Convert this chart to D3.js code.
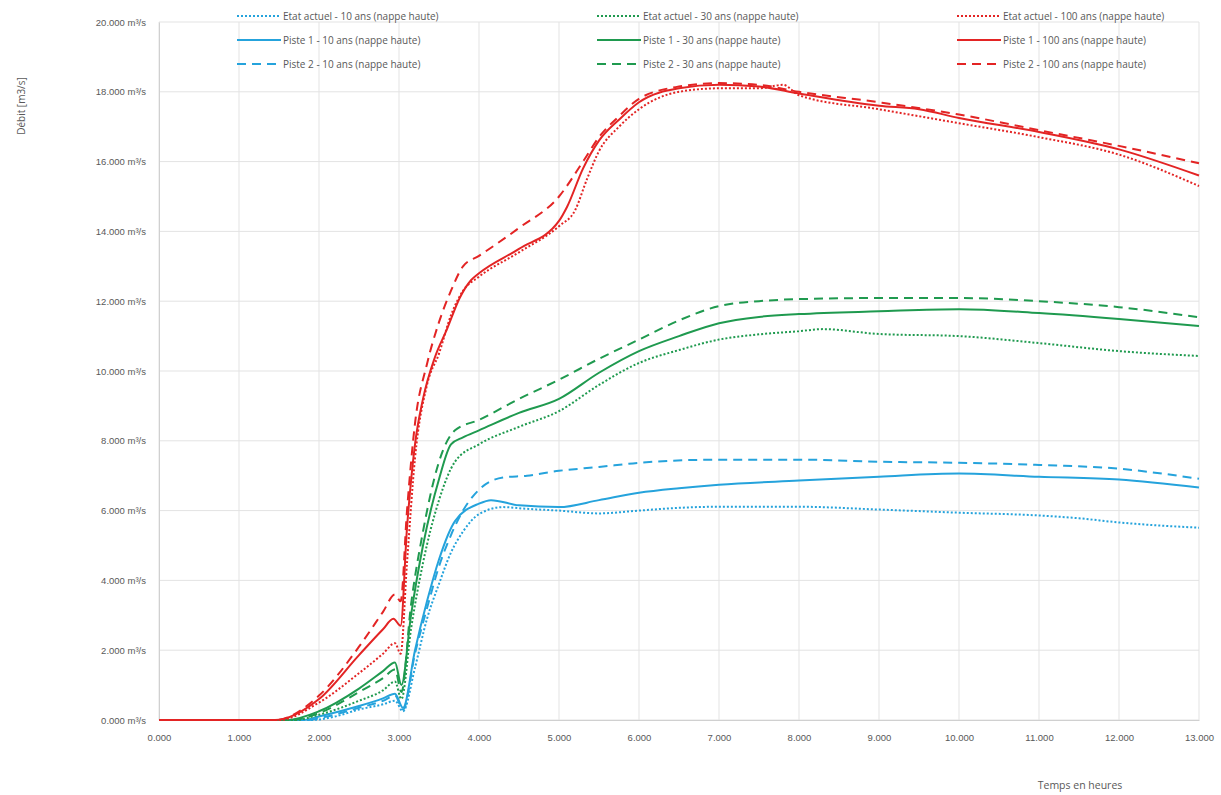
<!DOCTYPE html>
<html>
<head>
<meta charset="utf-8">
<script src="https://cdn.jsdelivr.net/npm/d3@7"></script>
<style>
  html, body { margin: 0; padding: 0; background: #fff; }
  svg { display: block; font-family: "Open Sans", "Liberation Sans", sans-serif; }
</style>
</head>
<body>
<svg id="chart" width="1221" height="795"></svg>
<script>
// Hydrogrammes : débit (m3/s) en fonction du temps (heures)
const xTicks = [0,1,2,3,4,5,6,7,8,9,10,11,12,13];
const yTicks = [0,2,4,6,8,10,12,14,16,18,20];

// --- 10 ans ---
const etat10 = [[0,0],[1.9,0],[2.2,0.1],[2.5,0.3],[2.8,0.45],[2.95,0.55],[3.05,0.25],[3.2,1.5],[3.35,2.9],[3.5,3.9],[3.65,4.8],[3.8,5.4],[4.0,5.9],[4.3,6.1],[4.6,6.05],[5.0,6.0],[5.5,5.92],[6.0,6.0],[6.5,6.08],[7.0,6.11],[8.0,6.11],[9.0,6.03],[10.0,5.94],[11.0,5.86],[11.5,5.78],[12.0,5.66],[13.0,5.51]];
const piste1_10 = [[0,0],[1.8,0],[2.0,0.1],[2.5,0.4],[2.8,0.62],[2.95,0.75],[3.05,0.35],[3.2,2.0],[3.35,3.4],[3.5,4.6],[3.7,5.7],[4.0,6.2],[4.15,6.3],[4.5,6.15],[5.0,6.1],[5.5,6.3],[6.0,6.51],[6.5,6.64],[7.0,6.74],[8.0,6.86],[9.0,6.97],[10.0,7.06],[11.0,6.97],[12.0,6.89],[13.0,6.66]];
const piste2_10 = [[0,0],[1.85,0],[2.1,0.1],[2.5,0.35],[2.8,0.55],[2.95,0.7],[3.05,0.3],[3.2,1.9],[3.35,3.2],[3.5,4.4],[3.65,5.3],[3.8,6.0],[4.0,6.6],[4.3,6.95],[4.6,7.0],[5.0,7.14],[5.5,7.25],[6.0,7.37],[7.0,7.46],[8.0,7.46],[9.0,7.4],[10.0,7.37],[11.0,7.31],[12.0,7.2],[13.0,6.91]];

// --- 30 ans ---
const etat30 = [[0,0],[1.7,0],[2.0,0.15],[2.5,0.55],[2.8,0.85],[2.95,1.1],[3.03,0.6],[3.15,2.6],[3.3,4.5],[3.5,6.3],[3.7,7.4],[4.0,7.9],[4.5,8.4],[5.0,8.85],[5.5,9.6],[6.0,10.23],[6.5,10.6],[7.0,10.9],[7.5,11.05],[8.0,11.14],[8.3,11.2],[9.0,11.06],[10.0,11.0],[11.0,10.8],[12.0,10.57],[13.0,10.43]];
const piste1_30 = [[0,0],[1.6,0],[2.0,0.25],[2.5,0.9],[2.8,1.4],[2.95,1.65],[3.03,1.0],[3.15,3.0],[3.3,5.0],[3.5,6.9],[3.65,7.9],[3.8,8.1],[4.0,8.3],[4.5,8.8],[5.0,9.2],[5.5,9.95],[6.0,10.57],[6.5,11.0],[7.0,11.37],[7.5,11.55],[8.0,11.63],[9.0,11.71],[10.0,11.77],[11.0,11.66],[12.0,11.49],[13.0,11.29]];
const piste2_30 = [[0,0],[1.65,0],[2.0,0.2],[2.5,0.8],[2.8,1.2],[2.95,1.45],[3.03,0.8],[3.15,3.3],[3.3,5.4],[3.5,7.4],[3.7,8.3],[4.0,8.6],[4.5,9.2],[5.0,9.75],[5.5,10.35],[6.0,10.9],[6.5,11.45],[7.0,11.86],[7.5,12.0],[8.0,12.06],[9.0,12.09],[10.0,12.09],[11.0,12.0],[12.0,11.83],[13.0,11.54]];

// --- 100 ans ---
const etat100 = [[0,0],[1.5,0],[2.0,0.5],[2.5,1.34],[2.8,1.9],[2.95,2.2],[3.02,1.9],[3.1,4.5],[3.2,7.5],[3.35,9.6],[3.5,10.5],[3.65,11.6],[3.8,12.3],[4.0,12.7],[4.5,13.4],[5.0,14.15],[5.2,14.6],[5.35,15.5],[5.5,16.3],[5.75,17.0],[6.0,17.5],[6.5,18.0],[7.0,18.1],[7.5,18.1],[7.8,18.2],[8.0,17.9],[9.0,17.5],[10.0,17.1],[11.0,16.7],[12.0,16.2],[13.0,15.3]];
const piste1_100 = [[0,0],[1.45,0],[2.0,0.6],[2.5,1.86],[2.8,2.6],[2.93,2.9],[3.02,2.7],[3.1,5.5],[3.2,7.9],[3.3,9.2],[3.45,10.4],[3.6,11.2],[3.76,12.1],[3.9,12.6],[4.0,12.8],[4.5,13.5],[5.0,14.3],[5.1,14.7],[5.3,15.8],[5.5,16.6],[5.75,17.2],[6.0,17.7],[6.5,18.1],[7.0,18.2],[7.5,18.15],[8.0,17.95],[9.0,17.6],[9.5,17.5],[10.0,17.25],[11.0,16.85],[12.0,16.35],[13.0,15.6]];
const piste2_100 = [[0,0],[1.45,0],[2.0,0.7],[2.5,2.1],[2.8,3.1],[2.95,3.6],[3.02,3.4],[3.1,6.0],[3.2,8.5],[3.35,10.2],[3.5,11.4],[3.65,12.3],[3.8,13.0],[4.0,13.3],[4.5,14.1],[5.0,15.0],[5.3,16.0],[5.5,16.7],[5.75,17.3],[6.0,17.8],[6.5,18.15],[7.0,18.25],[7.5,18.2],[8.0,18.0],[9.0,17.7],[10.0,17.35],[11.0,16.9],[12.0,16.45],[13.0,15.95]];

const seriesNames = [
  "Etat actuel - 10 ans (nappe haute)", "Piste 1 - 10 ans (nappe haute)", "Piste 2 - 10 ans (nappe haute)",
  "Etat actuel - 30 ans (nappe haute)", "Piste 1 - 30 ans (nappe haute)", "Piste 2 - 30 ans (nappe haute)",
  "Etat actuel - 100 ans (nappe haute)", "Piste 1 - 100 ans (nappe haute)", "Piste 2 - 100 ans (nappe haute)"
];
const seriesData = [etat10, piste1_10, piste2_10, etat30, piste1_30, piste2_30, etat100, piste1_100, piste2_100];

const colBlue = "#25a3dc", colGreen = "#1f9a4f", colRed = "#e32424";
const styles = [
  {c: colBlue, d: "2,2"}, {c: colBlue, d: null}, {c: colBlue, d: "9,6"},
  {c: colGreen, d: "2,2"}, {c: colGreen, d: null}, {c: colGreen, d: "9,6"},
  {c: colRed, d: "2,2"}, {c: colRed, d: null}, {c: colRed, d: "9,6"}
];

const svg = d3.select("#chart");
const margin = {left: 159, right: 22, top: 22, bottom: 75};
const W = 1221, H = 795;

const x = d3.scaleLinear().domain([0, 13]).range([margin.left, W - margin.right]);
const y = d3.scaleLinear().domain([0, 20]).range([H - margin.bottom, margin.top]);

// Grid
svg.append("g").selectAll("line").data(yTicks).join("line")
  .attr("x1", x(0)).attr("x2", x(13))
  .attr("y1", d => y(d)).attr("y2", d => y(d))
  .attr("stroke", "#e3e3e3").attr("stroke-width", 1);
svg.append("g").selectAll("line").data(xTicks).join("line")
  .attr("x1", d => x(d)).attr("x2", d => x(d))
  .attr("y1", y(0)).attr("y2", y(20))
  .attr("stroke", "#e3e3e3").attr("stroke-width", 1);

// Axes
const xAxis = d3.axisBottom(x).tickValues(xTicks).tickSize(0).tickPadding(14)
  .tickFormat(d3.format(".3f"));
const gx = svg.append("g").attr("transform", `translate(0,${y(0)})`).call(xAxis);
gx.select(".domain").attr("stroke", "#d0d0d0");
gx.selectAll("text").attr("fill", "#595959").attr("font-size", 9.5);

const yAxis = d3.axisLeft(y).tickValues(yTicks).tickSize(0).tickPadding(13)
  .tickFormat(d => d3.format(".3f")(d) + " m³/s");
const gy = svg.append("g").attr("transform", `translate(${x(0)},0)`).call(yAxis);
gy.select(".domain").attr("stroke", "#d0d0d0");
gy.selectAll("text").attr("fill", "#595959").attr("font-size", 9.5);

// Axis titles
svg.append("text").attr("transform", "translate(25,106) rotate(-90)")
  .attr("text-anchor", "middle").attr("fill", "#595959").attr("font-size", 10)
  .text("Débit [m3/s]");
svg.append("text").attr("x", 1080).attr("y", 789)
  .attr("text-anchor", "middle").attr("fill", "#595959").attr("font-size", 10.5)
  .text("Temps en heures");

// Lines
const line = d3.line().x(d => x(d[0])).y(d => y(d[1])).curve(d3.curveMonotoneX);
svg.append("g").selectAll("path").data(d3.range(seriesData.length)).join("path")
  .attr("d", i => line(seriesData[i]))
  .attr("fill", "none")
  .attr("stroke", i => styles[i].c)
  .attr("stroke-width", 2)
  .attr("stroke-dasharray", i => styles[i].d)
  .attr("stroke-linejoin", "round");

// Legend: three columns (10, 30, 100 ans), three rows each
const legendCols = [237, 597, 957];
const legendRows = [16, 40, 64];
const lg = svg.append("g");
seriesNames.forEach((name, i) => {
  const col = Math.floor(i / 3), row = i % 3;
  const lx = legendCols[col], ly = legendRows[row];
  lg.append("line").attr("x1", lx).attr("x2", lx + 44).attr("y1", ly).attr("y2", ly)
    .attr("stroke", styles[i].c).attr("stroke-width", 2)
    .attr("stroke-dasharray", styles[i].d);
  lg.append("text").attr("x", lx + 46).attr("y", ly + 3.5)
    .attr("fill", "#595959").attr("font-size", 10).text(name);
});
</script>
</body>
</html>
